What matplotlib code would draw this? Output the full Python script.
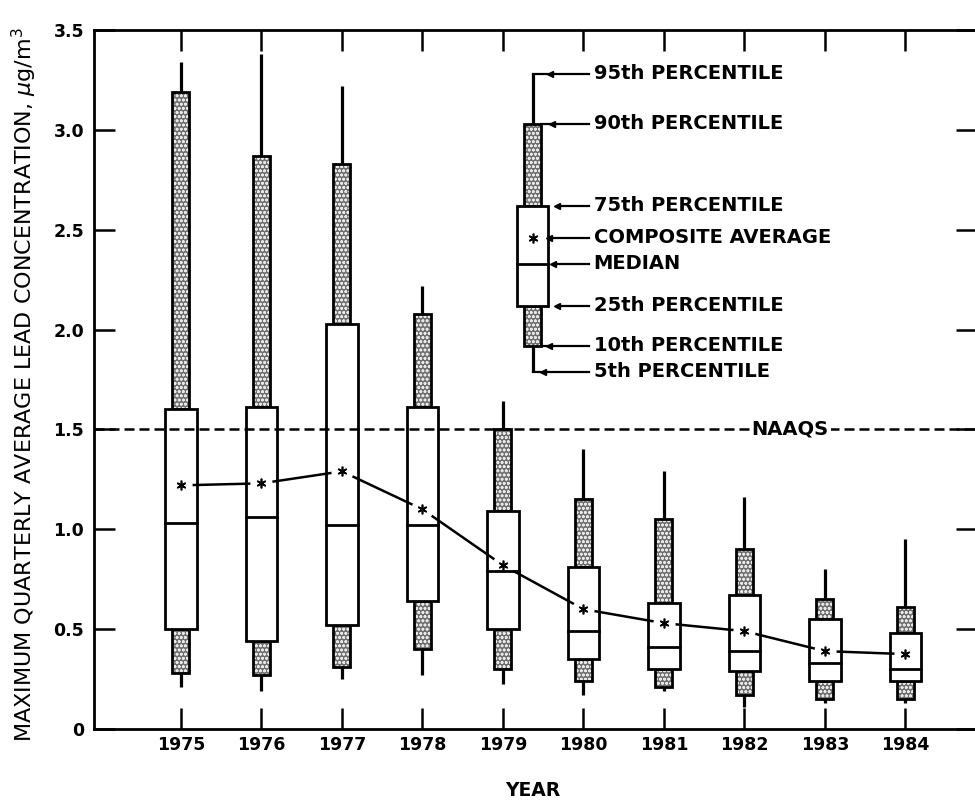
import numpy as np
import matplotlib.pyplot as plt
from matplotlib.patches import Rectangle

years = [1975, 1976, 1977, 1978, 1979, 1980, 1981, 1982, 1983, 1984]
p95 = [3.34, 3.38, 3.22, 2.22, 1.64, 1.40, 1.29, 1.16, 0.80, 0.95]
p90 = [3.19, 2.87, 2.83, 2.08, 1.50, 1.15, 1.05, 0.90, 0.65, 0.61]
p75 = [1.60, 1.61, 2.03, 1.61, 1.09, 0.81, 0.63, 0.67, 0.55, 0.48]
mean = [1.22, 1.23, 1.29, 1.10, 0.82, 0.60, 0.53, 0.49, 0.39, 0.375]
median = [1.03, 1.06, 1.02, 1.02, 0.79, 0.49, 0.41, 0.39, 0.33, 0.30]
p25 = [0.50, 0.44, 0.52, 0.64, 0.50, 0.35, 0.30, 0.29, 0.24, 0.24]
p10 = [0.28, 0.27, 0.31, 0.40, 0.30, 0.24, 0.21, 0.17, 0.15, 0.15]
p5 = [0.21, 0.19, 0.25, 0.27, 0.225, 0.17, 0.19, 0.11, 0.13, 0.13]

naaqs = 1.5

# explanatory key: sample box and its labels
key_x = 1979.37
key_vals = [3.28, 3.03, 2.62, 2.46, 2.33, 2.12, 1.92, 1.79]
key_labels = ["95th PERCENTILE", "90th PERCENTILE", "75th PERCENTILE",
              "COMPOSITE AVERAGE", "MEDIAN", "25th PERCENTILE",
              "10th PERCENTILE", "5th PERCENTILE"]

BOX_W = 0.39
SHADE_W = 0.21
LW = 2.0

plt.rcParams['hatch.linewidth'] = 0.8


def stipple(ax, x, lo, hi):
    ax.add_patch(Rectangle((x - SHADE_W / 2, lo), SHADE_W, hi - lo, facecolor='#6e6e6e',
                           edgecolor='#e8e8e8', hatch='oooo', lw=0, zorder=2))
    ax.add_patch(Rectangle((x - SHADE_W / 2, lo), SHADE_W, hi - lo, facecolor='none',
                           edgecolor='black', lw=LW, zorder=2.5))


def draw_box(ax, x, q5, q10, q25, q50, q75, q90, q95):
    ax.plot([x, x], [q5, q95], color='black', lw=2.3, solid_capstyle='butt', zorder=1)
    stipple(ax, x, q75, q90)
    stipple(ax, x, q10, q25)
    ax.add_patch(Rectangle((x - BOX_W / 2, q25), BOX_W, q75 - q25, facecolor='white',
                           edgecolor='black', lw=LW, zorder=2.6))
    ax.plot([x - BOX_W / 2, x + BOX_W / 2], [q50, q50], color='black', lw=LW, zorder=4)


fig = plt.figure(figsize=(9.75, 8), dpi=100)
ax = fig.add_axes([94 / 975, 71 / 800, 883 / 975, 699 / 800])

for i, yr in enumerate(years):
    draw_box(ax, yr, p5[i], p10[i], p25[i], median[i], p75[i], p90[i], p95[i])

# composite average trend
ax.plot(years, mean, color='black', lw=1.8, zorder=3)
ax.plot(years, mean, 'o', ms=16, mfc='white', mec='none', zorder=3.5)
ax.plot(years, mean, marker=(6, 2, 0), ls='none', ms=7, mew=1.2, color='black', zorder=5)

# NAAQS standard
ax.axhline(naaqs, color='black', lw=1.8, ls=(0, (4, 2)), zorder=3)
ax.text(1982.57, naaqs, "NAAQS", ha='center', va='center', fontsize=14,
        fontweight='bold', zorder=6,
        bbox=dict(facecolor='white', edgecolor='none', pad=1.5))

# key
draw_box(ax, key_x, key_vals[7], key_vals[6], key_vals[5], key_vals[4],
         key_vals[2], key_vals[1], key_vals[0])
ax.plot([key_x], [key_vals[3]], marker=(6, 2, 0), ms=7, mew=1.2, color='black', zorder=5)

px = 1 / 80.5
line_start = [0, SHADE_W / 2, BOX_W / 2 + 9 * px, BOX_W / 2, BOX_W / 2 + 5 * px,
              BOX_W / 2 + 9 * px, SHADE_W / 2, 0]
tips = [17 * px, 19 * px, BOX_W / 2 + 9 * px, BOX_W / 2 + 1 * px, BOX_W / 2 + 5 * px,
        BOX_W / 2 + 9 * px, SHADE_W / 2 + 8 * px, 10 * px]
text_x = key_x + 61 * px
for v, lab, s, t in zip(key_vals, key_labels, line_start, tips):
    ax.plot([key_x + s, text_x - 5 * px], [v, v], color='black', lw=1.6, zorder=5)
    ax.plot([key_x + t], [v], marker='<', ms=5, color='black', zorder=5)
    ax.text(text_x, v, lab, ha='left', va='center', fontsize=14, fontweight='bold')

ax.set_xlim(1973.92, 1984.89)
ax.set_ylim(0, 3.5)
ax.set_xticks(years)
ax.set_xticklabels([str(y) for y in years], fontsize=12.5, fontweight='bold')
yt = [0, 0.5, 1.0, 1.5, 2.0, 2.5, 3.0, 3.5]
ax.set_yticks(yt)
ax.set_yticklabels(["0", "0.5", "1.0", "1.5", "2.0", "2.5", "3.0", "3.5"],
                   fontsize=12.5, fontweight='bold')
ax.tick_params(direction='in', length=15, width=1.8, top=True, right=True, pad=7)
ax.tick_params(axis='x', pad=5)
for sp in ax.spines.values():
    sp.set_linewidth(2.0)

fig.text(24 / 975, 1 - 385 / 800, r"MAXIMUM QUARTERLY AVERAGE LEAD CONCENTRATION, $\mu$g/m$^3$",
         rotation=90, ha='center', va='center', fontsize=16)
fig.text(533 / 975, 1 - 790 / 800, "YEAR", ha='center', va='center',
         fontsize=13.5, fontweight='bold')

plt.savefig('out.png', dpi=100)
